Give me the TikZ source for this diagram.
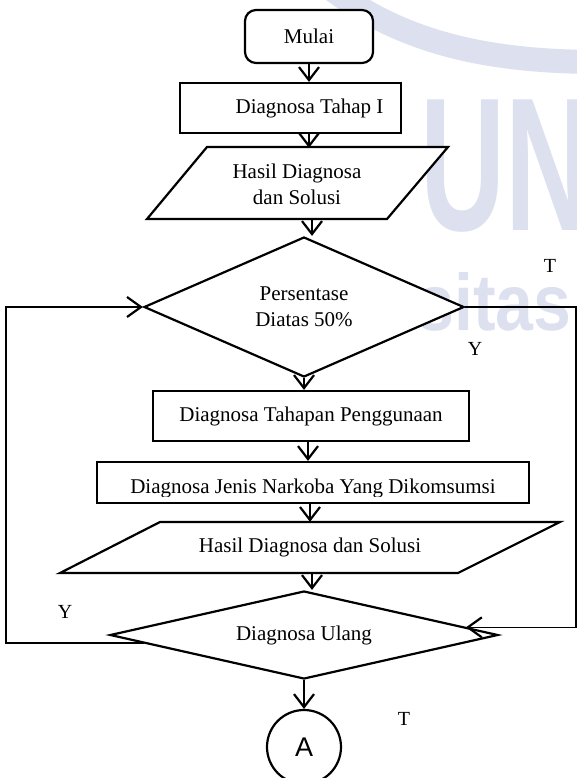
\documentclass[tikz,border=0pt]{standalone}
\usepackage{fontspec}
\setmainfont{Liberation Serif}
\newfontfamily\wmfont{Liberation Sans}
\usetikzlibrary{arrows.meta,shapes.geometric,calc}
\definecolor{wmblue}{RGB}{221,224,238}
\tikzset{
  shp/.style={draw=black, line width=2.2pt, fill=white, inner sep=0pt, font=\fontsize{21}{26}\selectfont, align=center},
  txt/.style={font=\fontsize{21}{26}\selectfont, align=center, inner sep=0pt},
  arr/.style={line width=2.2pt, -{Straight Barb[length=13pt,width=20pt]}},
  loopline/.style={line width=1.3pt, -{Straight Barb[length=14pt,width=20pt,line width=2.2pt]}},
  lbl/.style={font=\fontsize{20}{24}\selectfont, inner sep=0pt},
  wm/.style={text=wmblue, inner sep=0pt, anchor=base west}
}
\begin{document}
\begin{tikzpicture}[x=1pt,y=-1pt]
\useasboundingbox (0,0) rectangle (576,778);
% faint watermark in the background
\draw[line width=24pt, wmblue] (330,-12) .. controls (400,40) and (480,62) .. (600,62);
\node[wm, font=\wmfont\bfseries\fontsize{190}{190}\selectfont, xscale=0.62] (wmun) at (420,230) {UN};
\node[wm, font=\wmfont\bfseries\fontsize{80}{80}\selectfont, xscale=0.85] (wmrs) at (390,330) {rsitas M};

% shapes
\node[shp, rounded corners=11pt, minimum width=128pt, minimum height=53pt] (mulai) at (309,36.5) {Mulai};
\node[shp, minimum width=221pt, minimum height=50pt,
      label={[txt, xshift=19pt]center:Diagnosa Tahap I}] (b1) at (290.5,108) {};
\draw[shp] (147,219) -- (387,219) -- (448,147) -- (207,147) -- cycle;
\node[txt, minimum height=72pt, minimum width=200pt] (p1) at (297,184) {Hasil Diagnosa\\dan Solusi};
\node[shp, diamond, minimum width=320pt, minimum height=140pt, aspect=2.3] (d1) at (304,307) {Persentase\\Diatas 50\%};
\node[shp, minimum width=316pt, minimum height=50pt] (b2) at (311,416) {Diagnosa Tahapan Penggunaan};
\node[shp, minimum width=432pt, minimum height=41pt] (b3) at (313,482.5) {};
\begin{scope}
  \clip (97,462) rectangle (529,496);
  \node[txt, anchor=base] (b3t) at (313,493.5) {Diagnosa Jenis Narkoba Yang Dikomsumsi};
\end{scope}
\draw[shp] (60,573) -- (458,573) -- (560,522) -- (160,522) -- cycle;
\node[txt, minimum height=51pt, minimum width=300pt] (p2) at (310,547.5) {Hasil Diagnosa dan Solusi};
\node[shp, diamond, minimum width=388pt, minimum height=88pt, aspect=4.4] (d2) at (304,635) {Diagnosa Ulang};
\node[shp, circle, minimum size=74pt, font=\wmfont\fontsize{27}{30}\selectfont] (A) at (304,747) {A};

% connectors
\draw[arr] (mulai.south) -- (mulai.south |- b1.north);
\draw[arr] (mulai.south |- b1.south) -- (mulai.south |- p1.north);
\draw[arr] ([xshift=15pt]p1.south) -- ([xshift=15pt]p1.south |- d1.north);
\draw[arr] (d1.south) -- (d1.south |- b2.north);
\draw[arr] ([xshift=-3pt]b2.south) -- ([xshift=-3pt]b2.south |- b3.north);
\draw[arr] ([xshift=-3pt]b3.south) -- ([xshift=-3pt]b3.south |- p2.north);
\draw[arr] ([xshift=2pt]p2.south) -- ([xshift=2pt]p2.south |- d2.north);
\draw[arr] (d2.south) -- (d2.south |- A.north);

% loops
\coordinate (ptL) at ($(d2.west)!0.18!(d2.south)$);
\coordinate (lx) at ($(d1.west)+(-137,0)$);
\draw[loopline] (ptL) -| (lx) -- (d1.west);
\coordinate (ptR) at ($(d2.north)!0.83!(d2.east)$);
\coordinate (rx) at ($(d1.east)+(111,0)$);
\draw[loopline] (d1.east) -- (rx) |- (ptR);

% labels
\node[lbl] (t1) at (550,266) {T};
\node[lbl] (y1) at (475,349) {Y};
\node[lbl] (y2) at (65,612) {Y};
\node[lbl] (t2) at (404,719) {T};
\end{tikzpicture}
\end{document}
